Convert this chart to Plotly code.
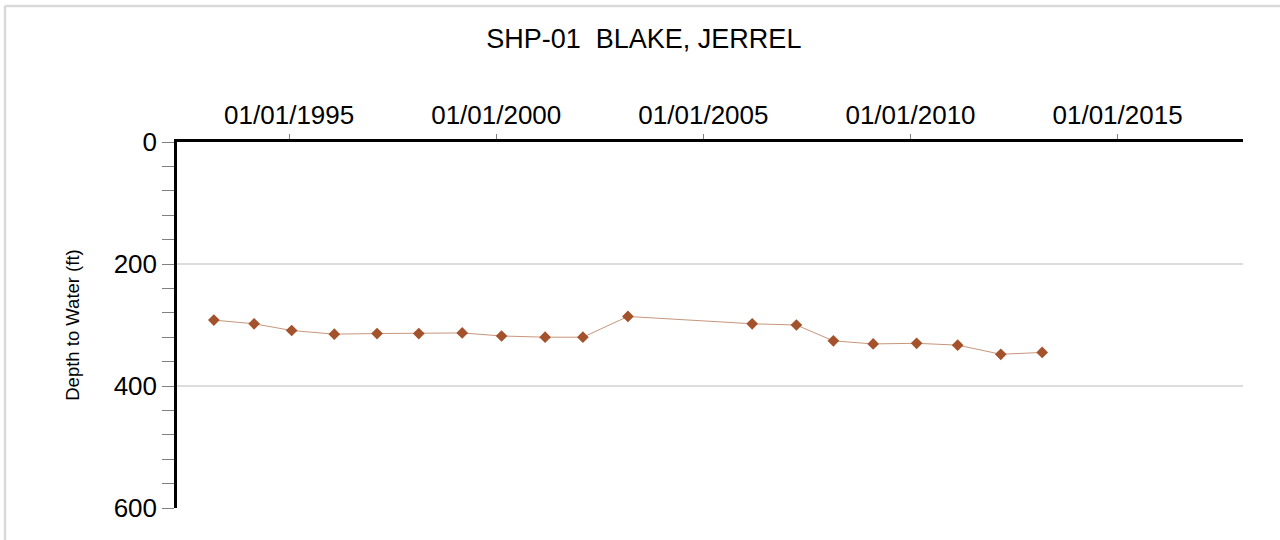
import plotly.graph_objects as go

# Data
dates = ["1993-03-08", "1994-02-26", "1995-01-23", "1996-02-03", "1997-02-14",
         "1998-02-17", "1999-03-07", "2000-02-17", "2001-03-07", "2002-02-03",
         "2003-03-07", "2006-03-07", "2007-04-01", "2008-02-21", "2009-02-06",
         "2010-02-24", "2011-02-21", "2012-03-07", "2013-03-07"]
depth_ft = [292, 298, 309, 315, 314, 314, 313, 318, 320, 320,
            286, 298, 300, 326, 331, 330, 333, 348, 345]

x_tickvals = ["1995-01-01", "2000-01-01", "2005-01-01", "2010-01-01", "2015-01-01"]
x_ticktext = ["01/01/1995", "01/01/2000", "01/01/2005", "01/01/2010", "01/01/2015"]
y_tickvals = [0, 200, 400, 600]

title_text = "SHP-01  BLAKE, JERREL"
y_title = "Depth to Water (ft)"

FONT = "Liberation Sans, Arial, sans-serif"

fig = go.Figure()
fig.add_trace(go.Scatter(
    x=dates, y=depth_ft, mode="lines+markers",
    line=dict(color="#C8967C", width=1),
    marker=dict(symbol="diamond", size=9, color="#A3522B"),
    showlegend=False,
))

# plot-area pixel geometry (for the outer frame)
L, R, T, B = 177, 1243, 142, 508
pw, ph = R - L, B - T
fx = (5 - L) / pw
fy = (B - 6) / ph

fig.update_layout(
    width=1280, height=540,
    margin=dict(l=L, r=1280 - R, t=T, b=540 - B),
    paper_bgcolor="white", plot_bgcolor="white",
    font=dict(family=FONT, color="black"),
    title=dict(text=title_text, x=0.503, xref="container", xanchor="center",
               y=1 - 39 / 540, yref="container", yanchor="middle",
               font=dict(size=27, family=FONT, color="black")),
    xaxis=dict(
        type="date", side="top",
        range=["1992-04-17", "2018-01-11"],
        tickvals=x_tickvals, ticktext=x_ticktext,
        ticks="outside", ticklen=5, tickwidth=1, tickcolor="#808080",
        tickfont=dict(size=26, family=FONT, color="black"),
        showgrid=False, zeroline=False,
        showline=True, linecolor="black", linewidth=2.5,
        mirror=False,
    ),
    yaxis=dict(
        range=[600, 0],
        tickvals=y_tickvals,
        ticks="outside", ticklen=12, tickwidth=1, tickcolor="#808080",
        tickfont=dict(size=26, family=FONT, color="black"),
        minor=dict(dtick=40, tick0=0, ticks="outside", ticklen=12,
                   tickwidth=1, tickcolor="#808080", showgrid=False),
        showgrid=True, gridcolor="#DDDDDD", gridwidth=2,
        zeroline=False,
        showline=True, linecolor="black", linewidth=2.5,
        title=dict(text=y_title, font=dict(size=18.5, family=FONT, color="black"),
                   standoff=30),
    ),
    shapes=[
        dict(type="line", xref="paper", yref="paper", x0=fx, x1=1.3, y0=fy, y1=fy,
             line=dict(color="#D9D9D9", width=2.5), layer="above"),
        dict(type="line", xref="paper", yref="paper", x0=fx, x1=fx, y0=fy, y1=-0.3,
             line=dict(color="#D9D9D9", width=2.5), layer="above"),
    ],
)

fig.write_html("out.html",
               config={"displayModeBar": False},
               post_script="document.body.style.margin='0px';document.body.style.overflow='hidden';")
